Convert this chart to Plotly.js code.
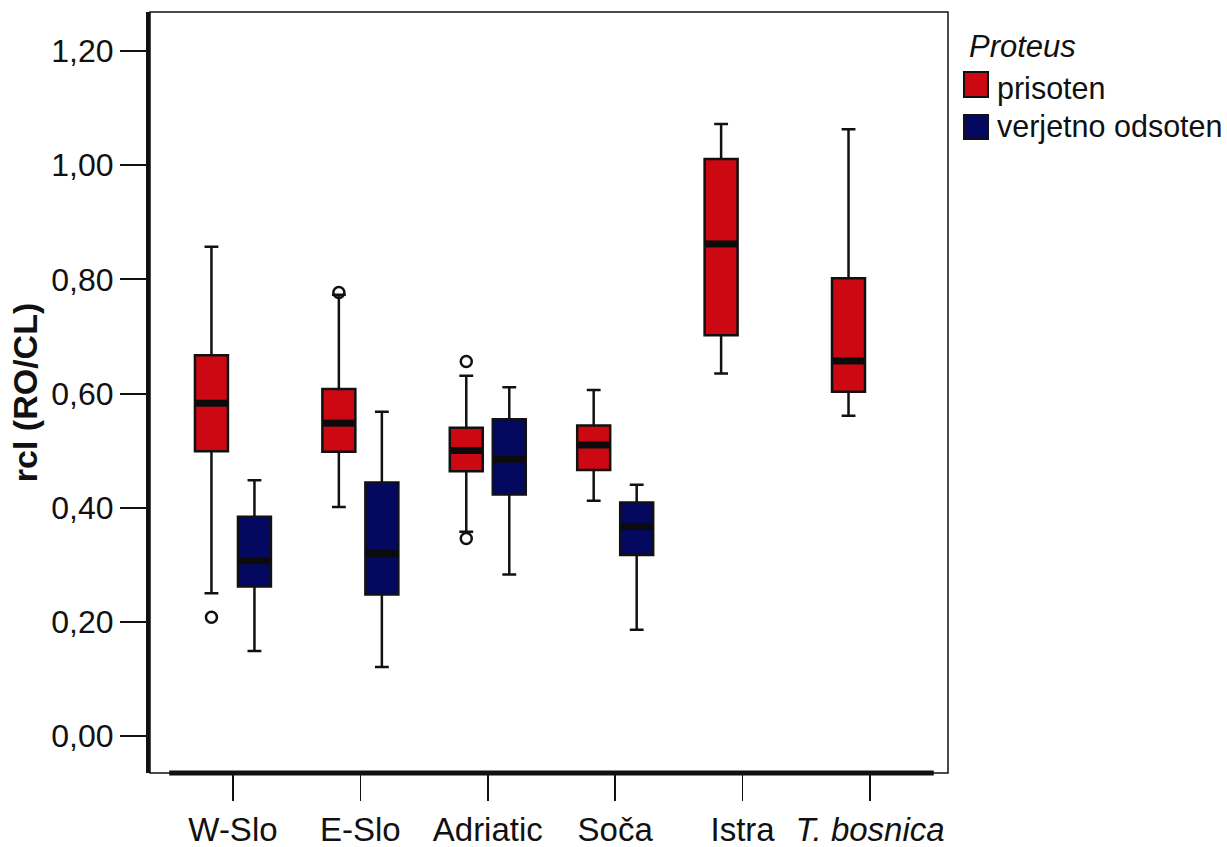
<!DOCTYPE html>
<html><head><meta charset="utf-8">
<script src="https://cdn.plot.ly/plotly-3.0.1.min.js"></script>
<style>html,body{margin:0;padding:0;background:#fff}</style>
</head><body><div id="chart" style="width:1227px;height:847px"></div>
<script>
// ---- data ----
const categories = ['W-Slo', 'E-Slo', 'Adriatic', 'Soča', 'Istra', '<i>T. bosnica</i>'];
const seriesNames = ['prisoten', 'verjetno odsoten'];
const legendTitle = '<i>Proteus</i>';
const yTitle = '<b>rcl (RO/CL)</b>';
const yTickVals = [0, 0.2, 0.4, 0.6, 0.8, 1.0, 1.2];

// prisoten (red)
const presLowerFence = [0.250, 0.401, 0.358, 0.412, 0.635, 0.561];
const presQ1         = [0.499, 0.498, 0.464, 0.466, 0.702, 0.603];
const presMedian     = [0.583, 0.548, 0.500, 0.510, 0.862, 0.657];
const presQ3         = [0.667, 0.608, 0.540, 0.544, 1.011, 0.802];
const presUpperFence = [0.857, 0.773, 0.631, 0.606, 1.072, 1.063];
const presOutlierCat = [0, 1, 2, 2];
const presOutlierVal = [0.208, 0.777, 0.656, 0.346];

// verjetno odsoten (blue)
const absLowerFence = [0.149, 0.121, 0.283, 0.186];
const absQ1         = [0.262, 0.248, 0.423, 0.317];
const absMedian     = [0.307, 0.320, 0.485, 0.367];
const absQ3         = [0.384, 0.444, 0.555, 0.409];
const absUpperFence = [0.448, 0.568, 0.611, 0.440];
const absOutlierCat = [];
const absOutlierVal = [];

// ---- style ----
const RED = '#CC0812', BLUE = '#04085F';
const FONT = 'Liberation Sans, Arial, Helvetica, sans-serif';
const BOXGAP = 0.325, BOXGROUPGAP = 0.233;
const W = 1227, H = 847;
const M = {l: 150, r: 279, t: 12, b: 74};

const series = [
  {name: seriesNames[0], color: RED, lf: presLowerFence, q1: presQ1, med: presMedian, q3: presQ3, uf: presUpperFence, oc: presOutlierCat, ov: presOutlierVal},
  {name: seriesNames[1], color: BLUE, lf: absLowerFence, q1: absQ1, med: absMedian, q3: absQ3, uf: absUpperFence, oc: absOutlierCat, ov: absOutlierVal}
];

const nTr = series.length;
const gf = 1 - BOXGAP, ggf = 1 - BOXGROUPGAP;
const halfW = 0.5 * gf * ggf / nTr;
const offsetOf = k => 2 * 0.5 * (-0.5 + (k + 0.5) / nTr) * gf;

const traces = [];
const shapes = [];
series.forEach((s, k) => {
  const pos = s.med.map((_, i) => i);
  traces.push({
    type: 'box', name: s.name, orientation: 'v', x: pos,
    q1: s.q1, median: s.med, q3: s.q3, lowerfence: s.lf, upperfence: s.uf,
    boxpoints: false, fillcolor: s.color,
    line: {color: '#111', width: 2.5}, whiskerwidth: 0.42,
    showlegend: false, hoverinfo: 'y'
  });
  const off = offsetOf(k);
  traces.push({
    type: 'scatter', mode: 'markers', showlegend: false,
    x: s.oc.map(c => c + off), y: s.ov,
    marker: {symbol: 'circle-open', size: 11, color: '#111', line: {width: 2.5, color: '#111'}}
  });
  s.med.forEach((m, i) => {
    shapes.push({type: 'line', xref: 'x', yref: 'y',
      x0: i + off - halfW * 0.96, x1: i + off + halfW * 0.96, y0: m, y1: m,
      line: {color: '#0b0b0b', width: 7}});
  });
});

// frame
shapes.push({type: 'rect', xref: 'paper', yref: 'paper', x0: 0, x1: 1, y0: 0, y1: 1, line: {color: '#111', width: 1.5}, layer: 'below'});
shapes.push({type: 'line', xref: 'x', yref: 'paper', x0: -0.5, x1: categories.length - 0.5, y0: 0, y1: 0, line: {color: '#111', width: 5}});

// manual legend (pixel helpers)
const pw = W - M.l - M.r, ph = H - M.t - M.b;
const px = v => (v - M.l) / pw;
const py = v => (H - M.b - v) / ph;
const annotations = [
  {xref: 'paper', yref: 'paper', x: px(967), y: py(46), xanchor: 'left', yanchor: 'middle', text: legendTitle, showarrow: false, font: {family: FONT, size: 31, color: '#111'}}
];
const legendRows = [{y0: 72, y1: 97, ty: 88}, {y0: 115, y1: 139, ty: 127}];
series.forEach((s, k) => {
  const r = legendRows[k];
  shapes.push({type: 'rect', xref: 'paper', yref: 'paper', x0: px(964), x1: px(988), y0: py(r.y1), y1: py(r.y0), fillcolor: s.color, line: {color: '#111', width: 2}});
  annotations.push({xref: 'paper', yref: 'paper', x: px(995), y: py(r.ty), xanchor: 'left', yanchor: 'middle', text: s.name, showarrow: false, font: {family: FONT, size: 30.5, color: '#111'}});
});

const layout = {
  width: W, height: H, margin: M,
  paper_bgcolor: '#fff', plot_bgcolor: '#fff',
  separators: ', ',
  boxmode: 'group', boxgap: BOXGAP, boxgroupgap: BOXGROUPGAP,
  showlegend: false,
  font: {family: FONT, color: '#111'},
  xaxis: {
    type: 'linear', range: [-0.651, 5.612],
    tickmode: 'array', tickvals: categories.map((_, i) => i), ticktext: categories,
    ticks: 'outside', ticklen: 27, tickwidth: 1.5, tickcolor: '#111',
    showline: false, showgrid: false, zeroline: false,
    tickfont: {family: FONT, size: 33, color: '#111'}
  },
  yaxis: {
    range: [-0.0648, 1.2683],
    tickmode: 'array', tickvals: yTickVals, tickformat: '.2f',
    ticks: 'outside', ticklen: 26, tickwidth: 2, tickcolor: '#111',
    showline: true, linewidth: 4, linecolor: '#111',
    showgrid: false, zeroline: false,
    tickfont: {family: FONT, size: 32, color: '#111'},
    title: {text: yTitle, font: {family: FONT, size: 34, color: '#111'}, standoff: 4}
  },
  shapes: shapes,
  annotations: annotations
};

Plotly.newPlot('chart', traces, layout, {displayModeBar: false, staticPlot: true});
</script>
</body></html>
